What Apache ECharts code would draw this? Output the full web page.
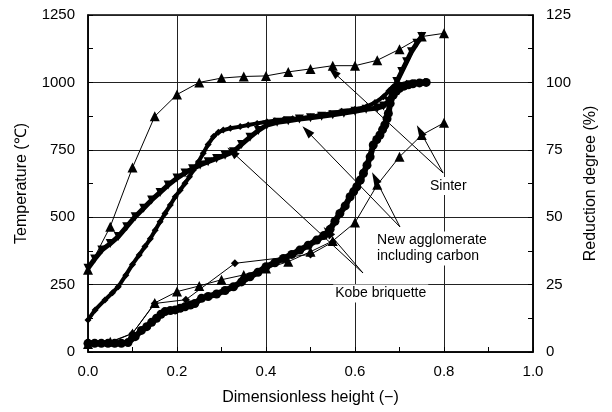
<!DOCTYPE html>
<html><head><meta charset="utf-8">
<script src="https://cdn.jsdelivr.net/npm/echarts@6/dist/echarts.min.js"></script>
<style>html,body{margin:0;padding:0;background:#fff}#c{width:612px;height:412px}</style>
</head><body><div id="c"></div>
<script>
// ---- data ----
const sinterTemp = [[0,305],[0.05,465],[0.1,684],[0.15,874],[0.2,955],[0.25,1000],[0.3,1016],[0.35,1022],[0.4,1024],[0.45,1039],[0.5,1050],[0.55,1062],[0.6,1062],[0.65,1082],[0.7,1123],[0.75,1170],[0.8,1182]];
const sinterRed = [[0,3],[0.05,3.8],[0.1,6.9],[0.15,18.2],[0.2,22.4],[0.25,24.5],[0.3,26.8],[0.35,28.6],[0.4,31],[0.45,33.5],[0.5,37.2],[0.55,41.2],[0.6,48],[0.65,62],[0.7,72.4],[0.75,80.5],[0.8,85]];
const diamondRed = [[0,3],[0.05,3.5],[0.1,6.9],[0.15,18],[0.22,19.4],[0.33,32.9],[0.5,36.2],[0.55,40.8]];
const diamondTemp = [[0,119],[0.016,156],[0.038,193],[0.055,220],[0.068,242],[0.085,285],[0.1,325],[0.115,360],[0.128,391],[0.14,420],[0.151,452],[0.162,483],[0.173,514],[0.185,545],[0.196,576],[0.207,600],[0.218,626],[0.228,650],[0.237,675],[0.248,705],[0.259,737],[0.27,770],[0.282,799],[0.293,815],[0.304,823],[0.32,830],[0.342,836],[0.36,842],[0.38,848],[0.402,854],[0.42,858],[0.44,862],[0.46,865],[0.476,867],[0.5,872],[0.52,878],[0.544,885],[0.57,893],[0.6,900],[0.626,910],[0.645,925],[0.664,947],[0.676,968],[0.686,984],[0.7,992],[0.716,997],[0.735,1000],[0.757,1003]];
const invTriTemp = [[0,311],[0.015,345],[0.031,378],[0.05,402],[0.068,428],[0.087,465],[0.106,502],[0.125,533],[0.143,564],[0.162,592],[0.18,619],[0.2,645],[0.218,664],[0.235,680],[0.252,694],[0.27,706],[0.289,718],[0.308,730],[0.327,743],[0.345,770],[0.364,797],[0.383,822],[0.402,842],[0.425,852],[0.45,858],[0.475,864],[0.5,869],[0.525,874],[0.55,880],[0.575,886],[0.6,893],[0.625,900],[0.65,905],[0.664,912],[0.675,930],[0.686,966],[0.694,1003],[0.705,1040],[0.716,1077],[0.727,1114],[0.739,1145],[0.75,1170]];
const circleRed = [[0,3.2],[0.015,3.2],[0.03,3.2],[0.045,3.2],[0.06,3.2],[0.075,3.2],[0.09,3.5],[0.106,5.7],[0.12,8],[0.132,9.4],[0.143,11],[0.154,12.5],[0.164,14],[0.173,15],[0.185,15.4],[0.196,15.6],[0.207,16.2],[0.218,16.8],[0.23,17.4],[0.24,18],[0.255,19.9],[0.27,20.6],[0.289,21.5],[0.308,22.8],[0.327,24.2],[0.345,26],[0.364,27.9],[0.382,29.6],[0.4,31.6],[0.42,33.1],[0.439,34.7],[0.458,36.2],[0.476,37.8],[0.495,39.6],[0.514,41.5],[0.53,43.2],[0.544,45.5],[0.555,48.5],[0.566,51.4],[0.578,54.2],[0.589,57.6],[0.597,59.5],[0.604,61.3],[0.612,63.8],[0.619,66.3],[0.627,69.3],[0.634,72.4],[0.641,76.8],[0.649,78.8],[0.656,80.5],[0.662,82.5],[0.667,84.2],[0.672,86.5],[0.675,88.5],[0.679,92.2],[0.686,95.3],[0.693,96.8],[0.7,97.8],[0.71,98.6],[0.72,99.1],[0.73,99.5],[0.745,99.8],[0.76,100]];

// annotation arrows (data coords, left axis): [from, to]
const arrows = [
  [[0.798,664],[0.551,1039]],
  [[0.798,664],[0.746,820]],
  [[0.701,464],[0.492,820]],
  [[0.701,464],[0.645,645]],
  [[0.618,293],[0.324,742]],
  [[0.618,293],[0.539,445]]
];
// annotation labels (top-left anchor, data coords on left axis)
const labels = [
  {text:'Sinter', at:[0.764,649]},
  {text:'New agglomerate\nincluding carbon', at:[0.645,447]},
  {text:'Kobe briquette', at:[0.551,250]}
];

const FONT = 'Liberation Sans';
const chart = echarts.init(document.getElementById('c'), null, {renderer:'canvas'});
const axCommon = {
  axisLine:{show:true,onZero:false,lineStyle:{color:'#000',width:1.5}},
  axisTick:{show:true,inside:true,length:5,lineStyle:{color:'#000'}},
  minorTick:{show:true,splitNumber:2,length:5,lineStyle:{color:'#000'}},
  axisLabel:{color:'#000',fontSize:15,fontFamily:FONT}
};
function lineSeries(name, data, yIdx, symbol, size, lw, extra){
  return Object.assign({
    name, type:'line', data, yAxisIndex:yIdx, symbol, symbolSize:size, showAllSymbol:true,
    lineStyle:{color:'#000',width:lw}, itemStyle:{color:'#000'}, emphasis:{disabled:true}, animation:false
  }, extra||{});
}
const option = {
  animation:false,
  textStyle:{fontFamily:FONT},
  grid:{left:88,right:79,top:15,bottom:60,show:true,borderColor:'#000',borderWidth:1.5},
  xAxis:Object.assign({}, axCommon, {
    type:'value',min:0,max:1,interval:0.2,
    splitLine:{show:true,lineStyle:{color:'#222',width:1}},
    axisLabel:Object.assign({}, axCommon.axisLabel, {margin:12, formatter:v=>v.toFixed(1)}),
    name:'Dimensionless height (\u2212)', nameLocation:'middle', nameGap:38,
    nameTextStyle:{color:'#000',fontSize:16,fontFamily:FONT}
  }),
  yAxis:[
    Object.assign({}, axCommon, {
      type:'value',min:0,max:1250,interval:250,position:'left',
      splitLine:{show:true,lineStyle:{color:'#222',width:1}},
      axisLabel:Object.assign({}, axCommon.axisLabel, {margin:13, formatter:v=>String(v)}),
      name:'Temperature (\u2103)', nameLocation:'middle', nameGap:58, nameRotate:90,
      nameTextStyle:{color:'#000',fontSize:16,fontFamily:FONT}
    }),
    Object.assign({}, axCommon, {
      type:'value',min:0,max:125,interval:25,position:'right',
      splitLine:{show:false},
      axisLabel:Object.assign({}, axCommon.axisLabel, {margin:13, formatter:v=>String(v)}),
      name:'Reduction degree (%)', nameLocation:'middle', nameGap:50, nameRotate:90,
      nameTextStyle:{color:'#000',fontSize:16,fontFamily:FONT}
    })
  ],
  series:[
    lineSeries('circleRed', circleRed, 1, 'circle', 9, 6),
    lineSeries('diamondTemp', diamondTemp, 0, 'diamond', 7, 4),
    lineSeries('invTriTemp', invTriTemp, 0, 'triangle', 9, 5, {symbolRotate:180}),
    lineSeries('diamondRed', diamondRed, 1, 'diamond', 8, 1),
    lineSeries('sinterRed', sinterRed, 1, 'triangle', 10, 1),
    lineSeries('sinterTemp', sinterTemp, 0, 'triangle', 10, 1, {
      markLine:{
        silent:true, animation:false, symbol:['none','triangle'], symbolSize:[8,13],
        lineStyle:{color:'#000',width:1,type:'solid'}, label:{show:false}, emphasis:{disabled:true},
        data: arrows.map(a=>[{coord:a[0]},{coord:a[1]}])
      }
    })
  ]
};
chart.setOption(option);
const g = labels.map(l=>{
  const p = chart.convertToPixel({xAxisIndex:0,yAxisIndex:0}, l.at);
  return {type:'text', x:p[0], y:p[1], z:100, silent:true,
    style:{text:l.text, fill:'#000', font:'14px "'+FONT+'"', lineHeight:16,
      backgroundColor:'#fff', padding:[1,2,1,2], verticalAlign:'top', align:'left'}};
});
chart.setOption({graphic:g});
</script></body></html>
